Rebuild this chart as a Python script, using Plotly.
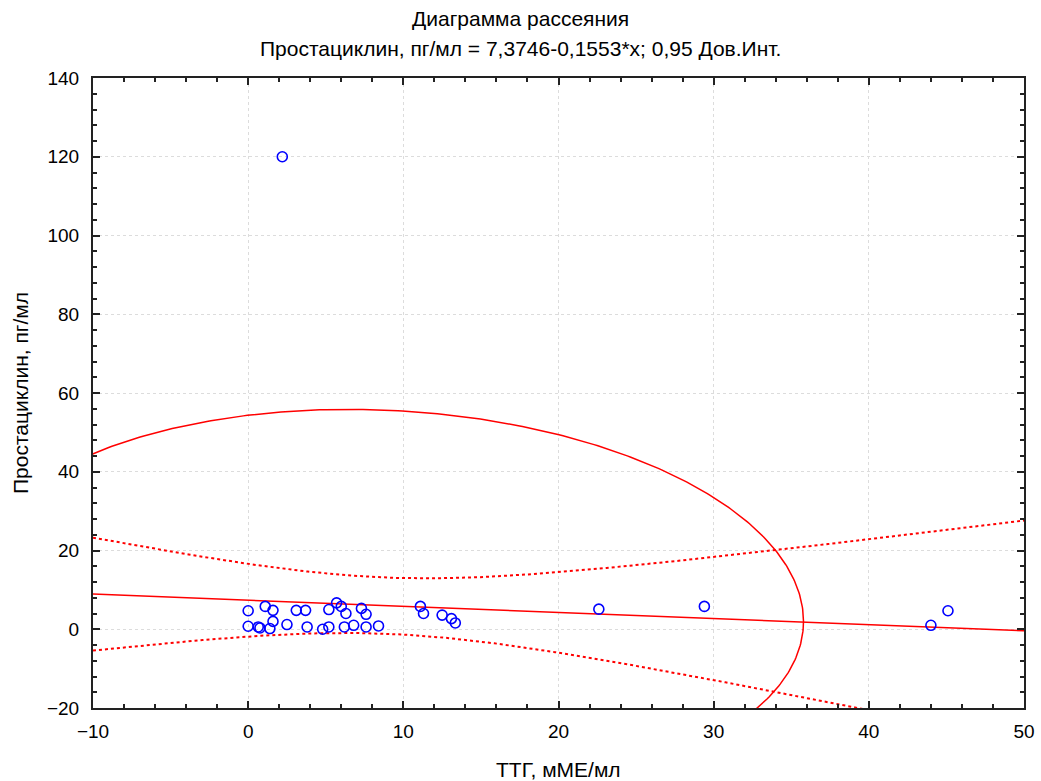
import numpy as np
import plotly.graph_objects as go

# ---- data ----
x_ttg = [2.2, 0.0, 1.1, 1.6, 3.1, 3.7, 5.2, 5.7, 6.0, 6.3, 7.3, 7.6,
         11.1, 11.3, 12.5, 13.1, 13.35, 0.0, 0.65, 0.76, 1.4, 1.6, 2.5,
         3.8, 4.8, 5.2, 6.2, 6.8, 7.6, 8.4, 22.6, 29.4, 44.0, 45.1]
y_prost = [120.0, 4.7, 5.8, 4.8, 4.8, 4.8, 5.0, 6.7, 5.8, 4.0, 5.3, 3.8,
           5.8, 4.0, 3.6, 2.7, 1.6, 0.76, 0.58, 0.33, 0.18, 2.0, 1.2,
           0.58, 0.0, 0.58, 0.58, 1.0, 0.58, 0.84, 5.1, 5.8, 1.0, 4.7]

INTERCEPT = 7.3746
SLOPE = -0.1553
T_CRIT = 2.0369        # t(0.975, n-2)
CHI2_2_095 = 5.9915    # chi2(0.95, 2) for the 95% ellipse

title_1 = "Диаграмма рассеяния"
title_2 = "Простациклин, пг/мл = 7,3746-0,1553*x; 0,95 Дов.Инт."
x_title = "ТТГ, мМЕ/мл"
y_title = "Простациклин, пг/мл"
X_RANGE = [-10, 50]
Y_RANGE = [-20, 140]

# ---- derived statistics ----
x = np.array(x_ttg)
y = np.array(y_prost)
n = len(x)
xm, ym = x.mean(), y.mean()
sxx = ((x - xm) ** 2).sum()
resid = y - (INTERCEPT + SLOPE * x)
s = np.sqrt((resid ** 2).sum() / (n - 2))

xs = np.linspace(X_RANGE[0], X_RANGE[1], 400)
fit = INTERCEPT + SLOPE * xs
hw = T_CRIT * s * np.sqrt(1.0 / n + (xs - xm) ** 2 / sxx)

cov = np.cov(x, y)
L = np.linalg.cholesky(cov)
t = np.linspace(0, 2 * np.pi, 600)
circ = np.vstack([np.cos(t), np.sin(t)])
ell = np.array([[xm], [ym]]) + np.sqrt(CHI2_2_095) * (L @ circ)

RED = "#ff0000"
FONT = "Liberation Sans, Arial, sans-serif"

fig = go.Figure()
fig.add_trace(go.Scatter(x=ell[0], y=ell[1], mode="lines",
                         line=dict(color=RED, width=1.5), hoverinfo="skip"))
fig.add_trace(go.Scatter(x=xs, y=fit + hw, mode="lines",
                         line=dict(color=RED, width=2, dash="dot")))
fig.add_trace(go.Scatter(x=xs, y=fit - hw, mode="lines",
                         line=dict(color=RED, width=2, dash="dot")))
fig.add_trace(go.Scatter(x=xs, y=fit, mode="lines",
                         line=dict(color=RED, width=1.5)))
fig.add_trace(go.Scatter(x=x_ttg, y=y_prost, mode="markers",
                         marker=dict(symbol="circle-open", size=10,
                                     color="#0000ff", line=dict(width=1.6, color="#0000ff"))))

axis_common = dict(
    showline=True, linecolor="#222222", linewidth=2, mirror="ticks",
    ticks="inside", ticklen=7, tickwidth=1.5, tickcolor="#222222",
    showgrid=True, gridcolor="#dcdcdc", griddash="dot", gridwidth=1,
    zeroline=False, automargin=False,
    tickfont=dict(family=FONT, size=19, color="black"),
)

fig.update_layout(
    width=1041, height=781, autosize=False,
    margin=dict(l=93, r=17, t=78, b=73, autoexpand=False),
    paper_bgcolor="white", plot_bgcolor="white",
    showlegend=False,
    font=dict(family=FONT, color="black"),
    xaxis=dict(range=X_RANGE, tick0=0, dtick=10, ticklabelstandoff=5,
               minor=dict(dtick=2, ticks="inside", ticklen=4, tickcolor="#222222", showgrid=False),
               **axis_common),
    yaxis=dict(range=Y_RANGE, tick0=0, dtick=20, ticklabelstandoff=8,
               minor=dict(dtick=4, ticks="inside", ticklen=4, tickcolor="#222222", showgrid=False),
               **axis_common),
    annotations=[
        dict(text=title_1, xref="paper", yref="paper", x=0.459, y=1.0952,
             showarrow=False, xanchor="center", yanchor="middle",
             font=dict(family=FONT, size=21, color="black")),
        dict(text=title_2, xref="paper", yref="paper", x=0.459, y=1.0476,
             showarrow=False, xanchor="center", yanchor="middle",
             font=dict(family=FONT, size=21, color="black")),
        dict(text=x_title, xref="paper", yref="paper", x=0.5, y=-0.0984,
             showarrow=False, xanchor="center", yanchor="middle",
             font=dict(family=FONT, size=21, color="black")),
        dict(text=y_title, xref="paper", yref="paper", x=-0.0784, y=0.5,
             showarrow=False, xanchor="center", yanchor="middle", textangle=-90,
             font=dict(family=FONT, size=21, color="black")),
    ],
)

fig.write_html("out.html",
               config={"displayModeBar": False, "responsive": False},
               post_script="document.body.style.margin='0';document.body.style.overflow='hidden';")
